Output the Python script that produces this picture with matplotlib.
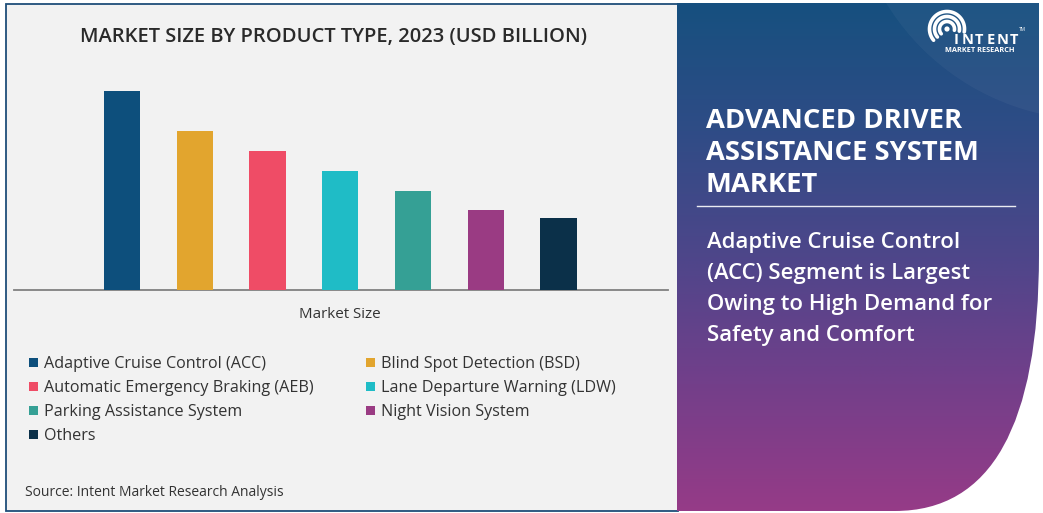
import numpy as np
import matplotlib
matplotlib.use('Agg')
import matplotlib.pyplot as plt
from matplotlib.patches import Rectangle, PathPatch, Circle
from matplotlib.path import Path
import matplotlib.colors as mcolors

# ---------------- data ----------------
categories = ["Adaptive Cruise Control (ACC)", "Blind Spot Detection (BSD)",
              "Automatic Emergency Braking (AEB)", "Lane Departure Warning (LDW)",
              "Parking Assistance System", "Night Vision System", "Others"]
values = [10.0, 8.0, 7.0, 6.0, 5.0, 4.0, 3.6]
colors = ["#0d4f7c", "#e2a52e", "#ef4c66", "#1fbcc6", "#35a095", "#9a3b83", "#0b3049"]
chart_title = "MARKET SIZE BY PRODUCT TYPE, 2023 (USD BILLION)"
x_label = "Market Size"
source_note = "Source: Intent Market Research Analysis"
headline = ["ADVANCED DRIVER", "ASSISTANCE SYSTEM", "MARKET"]
summary = ["Adaptive Cruise Control", "(ACC) Segment is Largest",
           "Owing to High Demand for", "Safety and Comfort"]
logo_word = "INTENT"
logo_sub = "MARKET RESEARCH"

FONT = "Open Sans"
W, H = 1043, 513
fig = plt.figure(figsize=(W / 100, H / 100), dpi=100)
fig.patch.set_facecolor("white")
bg = fig.add_axes([0, 0, 1, 1])
bg.set_xlim(0, W)
bg.set_ylim(H, 0)
bg.axis("off")
renderer = fig.canvas.get_renderer()


def fit(t, width):
    bb = t.get_window_extent(renderer)
    t.set_fontsize(t.get_fontsize() * width / bb.width)
    return t.get_fontsize()


# ---------------- left panel ----------------
bg.add_patch(Rectangle((5.5, 3.5), 672, 507, facecolor="#f2f2f2",
                       edgecolor="#1f4e79", lw=1.3, zorder=1))

# ---------------- right gradient panel ----------------
verts = [(677, 3), (1039, 3), (1039, 255), (1039, 511), (895, 511), (677, 511), (677, 3)]
codes = [Path.MOVETO, Path.LINETO, Path.LINETO, Path.CURVE3, Path.CURVE3,
         Path.LINETO, Path.CLOSEPOLY]
panel = PathPatch(Path(verts, codes), facecolor="none", edgecolor="none", zorder=2)
bg.add_patch(panel)
cmap = mcolors.LinearSegmentedColormap.from_list(
    "grad", [(0.0, "#16507f"), (0.25, "#2f4c86"), (0.5, "#4e468a"),
             (0.75, "#733f8a"), (1.0, "#963b87")])
grad = np.linspace(0, 1, 256).reshape(-1, 1)
im = bg.imshow(grad, cmap=cmap, aspect="auto", extent=[677, 1040, 512, 3],
               zorder=2, interpolation="bilinear")
im.set_clip_path(panel)
glow = Circle((1095, -125), 245, facecolor="white", alpha=0.04, edgecolor="none", zorder=3)
bg.add_patch(glow)
glow.set_clip_path(panel)
bg.set_xlim(0, W)
bg.set_ylim(H, 0)

# logo
cx, cy = 947, 29
for r in (7.5, 12.5, 17.5):
    a = np.radians(np.linspace(-10, 220, 80))
    bg.plot(cx + r * np.cos(a), cy - r * np.sin(a), color="white", lw=2.6,
            solid_capstyle="round", zorder=5)
bg.add_patch(Circle((cx, cy), 2.6, facecolor="white", edgecolor="none", zorder=5))
for i, ch in enumerate(logo_word):
    bg.text(956 + 11.6 * i, 43.5, ch, color="white", fontsize=10.5, fontweight="bold",
            family=FONT, ha="center", va="baseline", zorder=5)
t = bg.text(945, 52.5, logo_sub, color="white", fontsize=5, fontweight="bold",
            family=FONT, ha="left", va="baseline", zorder=5)
fit(t, 70)
bg.text(1019, 31, "TM", color="white", fontsize=3.5, family=FONT, ha="left",
        va="baseline", zorder=5)

# headline
htexts = []
for i, line in enumerate(headline):
    t = bg.text(706, 128 + 32 * i, line, color="white", fontsize=19, fontweight="bold",
                family=FONT, ha="left", va="baseline", zorder=5)
    htexts.append(t)
hs = fit(htexts[1], 272)
for tx in htexts:
    tx.set_fontsize(hs)
bg.plot([697, 1015], [206, 206], color="white", lw=1.0, alpha=0.9, zorder=5)

stexts = []
for i, line in enumerate(summary):
    t = bg.text(707, 248 + 31 * i, line, color="white", fontsize=14, fontweight="semibold",
                family=FONT, ha="left", va="baseline", zorder=5)
    stexts.append(t)
ss = fit(stexts[1], 265)
for tx in stexts:
    tx.set_fontsize(ss)

# ---------------- chart ----------------
t = bg.text(334, 42, chart_title, color="#2a2a2a", fontsize=13, fontweight="semibold",
            family=FONT, ha="center", va="baseline", zorder=5)
fit(t, 508)

ax = fig.add_axes([14 / W, (H - 290) / H, (668 - 14) / W, (290 - 80) / H])
ax.set_facecolor("none")
x = np.arange(len(categories))
ax.bar(x, values, width=0.5, color=colors, zorder=3)
ax.set_xlim(-1.485, len(categories) + 0.505)
ax.set_ylim(0, values[0] * (290 - 80) / (290 - 91))
for s in ("top", "left", "right"):
    ax.spines[s].set_visible(False)
ax.spines["bottom"].set_color("#808080")
ax.spines["bottom"].set_linewidth(1.3)
ax.set_xticks([])
ax.set_yticks([])

t = bg.text(340, 318, x_label, color="#333333", fontsize=10, family=FONT,
            ha="center", va="baseline", zorder=5)
fit(t, 82)

# legend
col_x = [29, 366]
rows_y = [363, 387, 411, 435]
ltexts = []
for i, (cat, col) in enumerate(zip(categories, colors)):
    cxl = col_x[i % 2]
    ry = rows_y[i // 2]
    bg.add_patch(Rectangle((cxl, ry - 5), 9, 9, facecolor=col, edgecolor="none", zorder=5))
    t = bg.text(cxl + 15, ry + 4.5, cat, color="#333333", fontsize=10.5, family=FONT,
                ha="left", va="baseline", zorder=5)
    ltexts.append(t)
ls = fit(ltexts[0], 223)
for tx in ltexts:
    tx.set_fontsize(ls)

t = bg.text(25, 496, source_note, color="#333333", fontsize=9.5, family=FONT,
            ha="left", va="baseline", zorder=5)
fit(t, 262)

fig.savefig("out.png", dpi=100, facecolor="white")
